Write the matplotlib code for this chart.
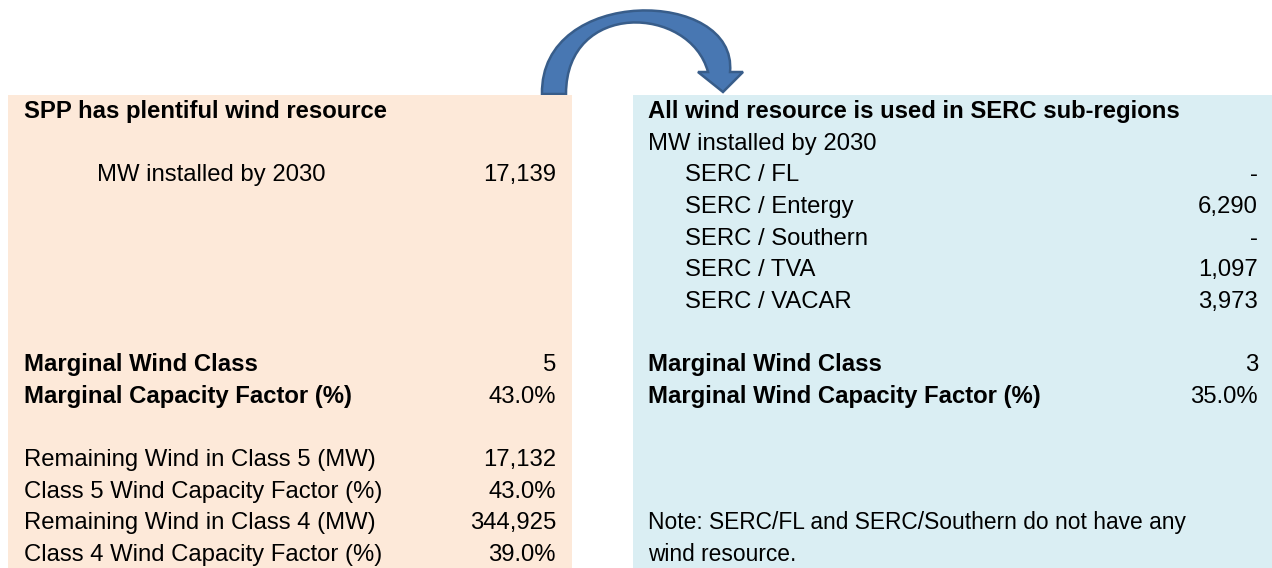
import numpy as np
import matplotlib
matplotlib.use('Agg')
import matplotlib.pyplot as plt
from matplotlib.patches import Rectangle, PathPatch
from matplotlib.path import Path

# left panel (SPP)
left_title = "SPP has plentiful wind resource"
left_labels = ["MW installed by 2030", "Marginal Wind Class", "Marginal Capacity Factor (%)",
               "Remaining Wind in Class 5 (MW)", "Class 5 Wind Capacity Factor (%)",
               "Remaining Wind in Class 4 (MW)", "Class 4 Wind Capacity Factor (%)"]
left_values = ["17,139", "5", "43.0%", "17,132", "43.0%", "344,925", "39.0%"]
left_rows = [2, 8, 9, 11, 12, 13, 14]
left_bold = [False, True, True, False, False, False, False]
left_indent = [True, False, False, False, False, False, False]

# right panel (SERC)
right_title = "All wind resource is used in SERC sub-regions"
right_labels = ["MW installed by 2030", "SERC / FL", "SERC / Entergy", "SERC / Southern",
                "SERC / TVA", "SERC / VACAR", "Marginal Wind Class",
                "Marginal Wind Capacity Factor (%)"]
right_values = ["", "-", "6,290", "-", "1,097", "3,973", "3", "35.0%"]
right_rows = [1, 2, 3, 4, 5, 6, 8, 9]
right_bold = [False, False, False, False, False, False, True, True]
right_indent = [False, True, True, True, True, True, False, False]
note_lines = ["Note: SERC/FL and SERC/Southern do not have any", "wind resource."]
note_rows = [13, 14]

W, H = 1272, 568
fig = plt.figure(figsize=(W / 100, H / 100), dpi=100)
ax = fig.add_axes([0, 0, 1, 1])
ax.set_xlim(0, W)
ax.set_ylim(H, 0)
ax.axis('off')

plt.rcParams['font.family'] = 'Liberation Sans'
fs = 17.2
fs_note = 16.4
row0 = 110
rowh = 31.64
def rowy(r):
    return row0 + r * rowh + 8

# panels
ax.add_patch(Rectangle((8, 95), 564, H - 95, facecolor='#FDE9D9', edgecolor='none', zorder=1))
ax.add_patch(Rectangle((633, 95), W - 633, H - 95, facecolor='#DAEEF3', edgecolor='none', zorder=1))

# curved arrow (decoration): outer curve, head, inner curve back
C = Path.CURVE4
verts = [(542, 94), (540, -15), (738, -12), (730, 72),
         (743, 72), (723, 92), (698, 72), (708, 72),
         (690, 5), (566, 0), (566, 94), (542, 94)]
codes = [Path.MOVETO, C, C, C,
         Path.LINETO, Path.LINETO, Path.LINETO, Path.LINETO,
         C, C, C, Path.CLOSEPOLY]
ax.add_patch(PathPatch(Path(verts, codes), facecolor='#4877B2', edgecolor='#385D8A',
                       linewidth=1.8, zorder=0))

# left text
ax.text(24, rowy(0), left_title, fontsize=fs, fontweight='bold', va='baseline', zorder=2)
for lab, val, r, b, ind in zip(left_labels, left_values, left_rows, left_bold, left_indent):
    ax.text(97 if ind else 24, rowy(r), lab, fontsize=fs,
            fontweight='bold' if b else 'normal', va='baseline', zorder=2)
    ax.text(556, rowy(r), val, fontsize=fs, ha='right', va='baseline', zorder=2)

# right text
ax.text(648, rowy(0), right_title, fontsize=fs, fontweight='bold', va='baseline', zorder=2)
for lab, val, r, b, ind in zip(right_labels, right_values, right_rows, right_bold, right_indent):
    ax.text(685 if ind else 648, rowy(r), lab, fontsize=fs,
            fontweight='bold' if b else 'normal', va='baseline', zorder=2)
    ax.text(1258, rowy(r), val, fontsize=fs, ha='right', va='baseline', zorder=2)
for line, r in zip(note_lines, note_rows):
    ax.text(648, rowy(r), line, fontsize=fs_note, va='baseline', zorder=2)

fig.savefig('out.png', dpi=100)
